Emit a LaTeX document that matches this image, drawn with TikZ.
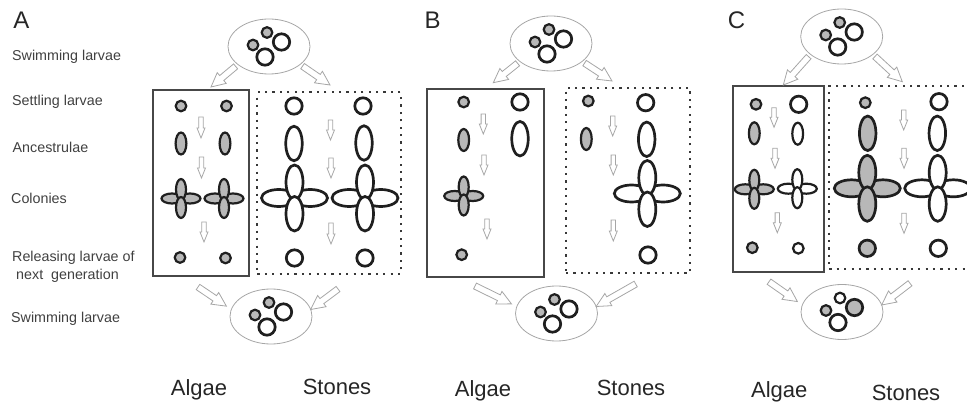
\documentclass[tikz,border=0pt]{standalone}
\usepackage{fontspec}
\setmainfont{Liberation Sans}
\usetikzlibrary{calc, shapes.geometric}
\definecolor{algalgray}{HTML}{B8B8B8}
\tikzset{
	cell/.style = {ellipse, draw = black!88, line width = 2.7pt, inner sep = 0pt, outer sep = 0pt, fill = white},
	algal/.style = {cell, fill = algalgray},
	slim/.style = {line width = 2.2pt},
	dotS/.style = {slim, minimum width = 10.6pt, minimum height = 10.6pt},
	dotL/.style = {minimum width = 16.4pt, minimum height = 16.4pt},
	ovalS/.style = {slim, minimum width = 10.8pt, minimum height = 22pt},
	ovalL/.style = {minimum width = 16.5pt, minimum height = 34.5pt},
	cloud/.style = {ellipse, draw = black!35, line width = .8pt, inner sep = 0pt, outer sep = 0pt, minimum width = 82pt, minimum height = 55pt},
	solidbox/.style = {draw = black!72, line width = 2pt, inner sep = 0pt},
	dotbox/.style = {draw = black!78, line width = 2pt, dash pattern = on 2.2pt off 5.2pt, inner sep = 0pt},
	outline/.style = {draw = black!35, line width = .8pt, fill = white, line join = miter},
	stagename/.style = {anchor = west, font = \fontsize{14.3}{16}\selectfont, text = black!75, inner sep = 0pt},
	habitat/.style = {font = \fontsize{22}{24}\selectfont, text = black!85, inner sep = 0pt},
	panel/.style = {font = \fontsize{24}{26}\selectfont, text = black!85, inner sep = 0pt}
}

% hollow block arrow: name, from, to, gap at start, gap at tip, half shaft, half head, head length
\newcommand{\blockarrow}[8]{
	\coordinate (#1s) at ($(#2)!#4pt!(#3)$);
	\coordinate (#1e) at ($(#3)!#5pt!(#2)$);
	\coordinate (#1n) at ($(#1e)!#8pt!(#1s)$);
	\draw[outline] ($(#1s)!#6pt!90:(#1e)$) -- ($(#1n)!#6pt!-90:(#1s)$) -- ($(#1n)!#7pt!-90:(#1s)$) -- (#1e)
		-- ($(#1n)!#7pt!90:(#1s)$) -- ($(#1n)!#6pt!90:(#1s)$) -- ($(#1s)!#6pt!-90:(#1e)$) -- cycle;
}
\newcommand{\bigarrow}[5]{\blockarrow{#1}{#2}{#3}{#4}{#5}{3.2}{7}{14}}
\newcommand{\stepdown}[4]{\blockarrow{#1}{#2,#3}{#2,#4}{0}{0}{2.2}{4}{10}}

% four petals of a colony: name, centre, petal length, petal width, look
\newcommand{\colony}[5]{
	\begin{scope}[shift = {(#2)}]
		\node[#5, minimum width = #3pt, minimum height = #4pt] (#1w) at (-#3/2+1.5,0) {};
		\node[#5, minimum width = #3pt, minimum height = #4pt] (#1e) at (#3/2-1.5,0) {};
		\node[#5, minimum width = #4pt, minimum height = #3pt] (#1n) at (0,-#3/2+1.5) {};
		\node[#5, minimum width = #4pt, minimum height = #3pt] (#1s) at (0,#3/2-1.5) {};
	\end{scope}
}

% ellipse with four larvae: name, centre, look of the upper small one, look of the right big one
\newcommand{\swarm}[4]{
	\node[cloud] (#1) at (#2) {};
	\begin{scope}[shift = {(#2)}]
		\node[#3, dotS] (#1a) at (-2,-14) {};
		\node[algal, dotS] (#1b) at (-16,-1.5) {};
		\node[#4, dotL] (#1c) at (12.5,-4.5) {};
		\node[cell, dotL] (#1d) at (-4,10.5) {};
	\end{scope}
}

\begin{document}
\begin{tikzpicture}[x = 1pt, y = -1pt]
	\useasboundingbox (0,0) rectangle (967,403);

	\node[stagename] (swim1) at (12,56.5) {Swimming larvae};
	\node[stagename] (settle) at (12,101.5) {Settling larvae};
	\node[stagename] (ances) at (12.5,147) {Ancestrulae};
	\node[stagename] (colon) at (11,198) {Colonies};
	\node[stagename] (rel1) at (12,258) {Releasing larvae of};
	\node[stagename] (rel2) at (16,275.5) {next\ \ generation};
	\node[stagename] (swim2) at (11,318.5) {Swimming larvae};

	% panel A
	\node[panel] (labA) at (21.5,20) {A};
	\node[solidbox, minimum width = 96.5pt, minimum height = 186pt] (algaeA) at (201.2,183.5) {};
	\node[dotbox, minimum width = 143.5pt, minimum height = 181.5pt] (stonesA) at (329.2,183.2) {};
	\swarm{topA}{269,46.5}{algal}{cell}
	\swarm{botA}{271,316.5}{algal}{cell}
	\coordinate (aTL) at (211,87);
	\coordinate (aTR) at (330,85);
	\coordinate (aBL) at (198,287);
	\coordinate (aBR) at (338,289);
	\bigarrow{arrA1}{topA.210}{aTL}{3}{0}
	\bigarrow{arrA2}{topA.330}{aTR}{3}{0}
	\bigarrow{arrA3}{aBL}{botA.170}{0}{6}
	\bigarrow{arrA4}{aBR}{botA.10}{0}{0}
	\node[algal, dotS] (setA1) at (181,106) {};
	\node[algal, dotS] (setA2) at (226.5,106) {};
	\node[algal, ovalS] (ancA1) at (181,143.5) {};
	\node[algal, ovalS] (ancA2) at (225,143.5) {};
	\colony{colA1}{181,198.5}{21}{10}{algal, slim}
	\colony{colA2}{224,198.5}{21}{10}{algal, slim}
	\node[algal, dotS] (relA1) at (180,257.5) {};
	\node[algal, dotS] (relA2) at (225.5,258) {};
	\node[cell, dotL] (setA3) at (294,106) {};
	\node[cell, dotL] (setA4) at (363,106) {};
	\node[cell, ovalL] (ancA3) at (294,143.5) {};
	\node[cell, ovalL] (ancA4) at (364,143) {};
	\colony{colA3}{294.5,198}{34.5}{17}{cell}
	\colony{colA4}{365,198}{34.5}{17}{cell}
	\node[cell, dotL] (relA3) at (294.5,258) {};
	\node[cell, dotL] (relA4) at (365,258) {};
	\stepdown{stA1}{201}{117}{138}
	\stepdown{stA2}{201.5}{157}{178}
	\stepdown{stA3}{204}{222}{242}
	\stepdown{stA4}{330.5}{120}{140}
	\stepdown{stA5}{331}{158}{178}
	\stepdown{stA6}{331}{223}{244}
	\node[habitat] (algA) at (199,389.5) {Algae};
	\node[habitat] (stoA) at (337,387) {Stones};

	% panel B
	\node[panel] (labB) at (432.5,20) {B};
	\node[solidbox, minimum width = 117pt, minimum height = 188pt] (algaeB) at (485.5,183) {};
	\node[dotbox, minimum width = 124pt, minimum height = 185pt] (stonesB) at (628,180.5) {};
	\swarm{topB}{551,43.5}{algal}{cell}
	\swarm{botB}{556.5,313.5}{algal}{cell}
	\coordinate (bTL) at (493.3,82.7);
	\coordinate (bTR) at (612,81);
	\coordinate (bBL) at (475,286);
	\coordinate (bBR) at (635.7,284);
	\bigarrow{arrB1}{topB.210}{bTL}{3}{0}
	\bigarrow{arrB2}{topB.330}{bTR}{3}{0}
	\bigarrow{arrB3}{bBL}{botB.170}{0}{6}
	\bigarrow{arrB4}{bBR}{botB.10}{0}{0}
	\node[algal, dotS] (setB1) at (463.7,102) {};
	\node[cell, dotL] (setB2) at (520,102) {};
	\node[algal, ovalS] (ancB1) at (463.7,140) {};
	\node[cell, ovalL] (ancB2) at (520,138.7) {};
	\colony{colB1}{463.7,196}{21}{10}{algal, slim}
	\node[algal, dotS] (relB1) at (461.7,254.7) {};
	\node[algal, dotS] (setB3) at (588.3,101) {};
	\node[cell, dotL] (setB4) at (645.7,102.7) {};
	\node[algal, ovalS] (ancB3) at (586.3,139) {};
	\node[cell, ovalL] (ancB4) at (646.7,139.3) {};
	\colony{colB2}{647.3,193.5}{34.5}{17}{cell}
	\node[cell, dotL] (relB2) at (648,255) {};
	\stepdown{stB1}{483.3}{114}{134}
	\stepdown{stB2}{484}{155}{175}
	\stepdown{stB3}{487}{219}{239}
	\stepdown{stB4}{612.7}{116}{136}
	\stepdown{stB5}{613.3}{155}{175}
	\stepdown{stB6}{613.3}{220}{241}
	\node[habitat] (algB) at (483,390.5) {Algae};
	\node[habitat] (stoB) at (631,388) {Stones};

	% panel C
	\node[panel] (labC) at (736.5,20) {C};
	\node[solidbox, minimum width = 91pt, minimum height = 185.7pt] (algaeC) at (778.8,178.8) {};
	\node[dotbox, minimum width = 150pt, minimum height = 182.5pt] (stonesC) at (904.3,177.3) {};
	\swarm{topC}{841.7,36.5}{algal}{cell}
	\swarm{botC}{842,312}{cell}{algal}
	\coordinate (cTL) at (783.3,85);
	\coordinate (cTR) at (902.3,81.7);
	\coordinate (cBL) at (769,281.7);
	\coordinate (cBR) at (910,283.3);
	\bigarrow{arrC1}{topC.210}{cTL}{3}{0}
	\bigarrow{arrC2}{topC.330}{cTR}{3}{0}
	\bigarrow{arrC3}{cBL}{botC.170}{0}{6}
	\bigarrow{arrC4}{cBR}{botC.10}{0}{0}
	\node[algal, dotS] (setC1) at (756,104.3) {};
	\node[cell, dotL] (setC2) at (798.7,104.3) {};
	\node[algal, ovalS] (ancC1) at (754.3,133.3) {};
	\node[cell, ovalS] (ancC2) at (797.7,133.7) {};
	\colony{colC1}{754.3,189.3}{21}{10}{algal, slim}
	\colony{colC2}{797.3,188.7}{21}{10}{cell, slim}
	\node[algal, dotS] (relC1) at (752.3,247.7) {};
	\node[cell, dotS] (relC2) at (798.3,248.3) {};
	\node[algal, dotS] (setC3) at (865.3,102.7) {};
	\node[cell, dotL] (setC4) at (939,101.7) {};
	\node[algal, ovalL] (ancC3) at (867.7,133.3) {};
	\node[cell, ovalL] (ancC4) at (937.3,133.3) {};
	\colony{colC3}{867.3,188.3}{34.5}{17}{algal}
	\colony{colC4}{937.7,188.3}{34.5}{17}{cell}
	\node[algal, dotL] (relC3) at (867.3,248.3) {};
	\node[cell, dotL] (relC4) at (938.3,248.3) {};
	\stepdown{stC1}{774}{107.7}{127.3}
	\stepdown{stC2}{775}{148.3}{168.3}
	\stepdown{stC3}{777.3}{212.7}{232.7}
	\stepdown{stC4}{903.7}{110}{130}
	\stepdown{stC5}{904}{148.3}{168.3}
	\stepdown{stC6}{904}{213.3}{233.3}
	\node[habitat] (algC) at (779.3,392) {Algae};
	\node[habitat] (stoC) at (906,392.7) {Stones};
\end{tikzpicture}
\end{document}
